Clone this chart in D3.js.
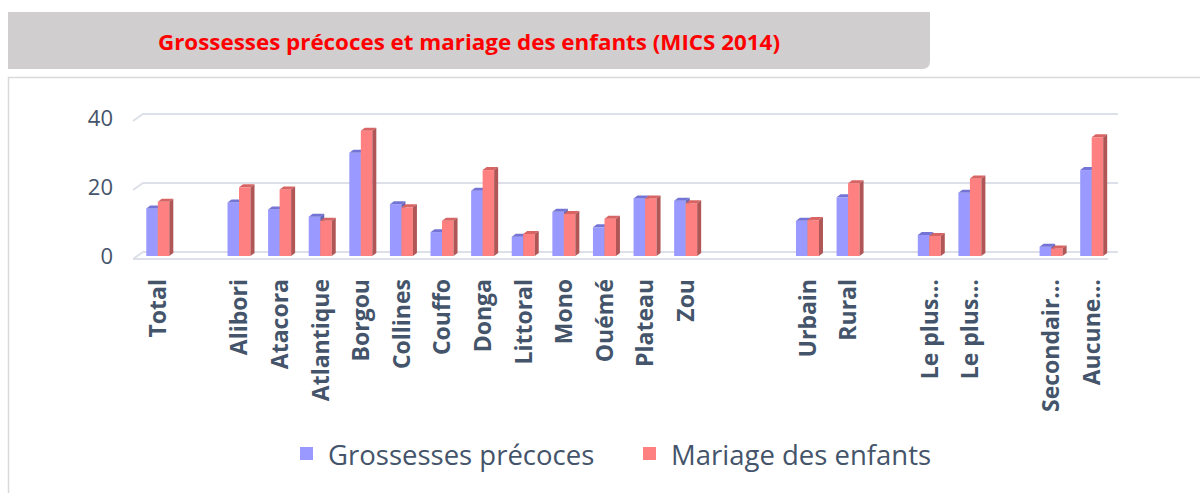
<!DOCTYPE html>
<html>
<head>
<meta charset="utf-8">
<script src="https://cdn.jsdelivr.net/npm/d3@7"></script>
<style>
  html, body { margin: 0; padding: 0; background: #ffffff; }
  svg { display: block; }
</style>
</head>
<body>
<svg id="chart"></svg>
<script>
// Categories (empty strings are the gaps between groups)
const categories = ["Total", "", "Alibori", "Atacora", "Atlantique", "Borgou", "Collines", "Couffo",
  "Donga", "Littoral", "Mono", "Ouémé", "Plateau", "Zou", " ", "  ", "Urbain", "Rural", "   ",
  "Le plus…", "Le plus… ", "    ", "Secondair…", "Aucune…"];

const grossesses = [13.8, null, 15.5, 13.5, 11.4, 29.9, 15.0, 6.9, 18.9, 5.6, 12.8, 8.3, 16.7, 16.0,
  null, null, 10.2, 17.0, null, 6.1, 18.3, null, 2.7, 24.9];
const mariage = [15.7, null, 19.9, 19.3, 10.2, 36.3, 14.1, 10.2, 24.9, 6.4, 12.2, 10.8, 16.7, 15.3,
  null, null, 10.4, 21.1, null, 5.8, 22.5, null, 2.2, 34.4];

const yTicks = [0, 20, 40];
const seriesNames = ["Grossesses précoces", "Mariage des enfants"];

const width = 1200, height = 493;
const textColor = "#44546a";
const colors = {
  front: ["#9999ff", "#ff8080"],
  top: ["#7474d6", "#d86464"],
  side: ["#6666b8", "#b05656"]
};

const svg = d3.select("#chart")
  .attr("width", width)
  .attr("height", height)
  .style("font-family", "'Open Sans', sans-serif");

// Title box
svg.append("path")
  .attr("d", "M8,12 H930 V61 Q930,69 922,69 H8 Z")
  .attr("fill", "#d0cece");

svg.append("text")
  .attr("x", 469)
  .attr("y", 50)
  .attr("text-anchor", "middle")
  .attr("fill", "#ff0000")
  .attr("textLength", 622)
  .attr("lengthAdjust", "spacingAndGlyphs")
  .style("font-weight", "bold")
  .style("font-size", "21px")
  .text("Grossesses précoces et mariage des enfants (MICS 2014)");

// Chart frame
svg.append("path")
  .attr("d", "M8.5,493 V77.5 H1200")
  .attr("fill", "none")
  .attr("stroke", "#d9d9d9")
  .attr("stroke-width", 1.5);

const margins = {left: 137.5, right: 88, top: 118, bottom: 256};

const x = d3.scaleBand()
  .domain(categories)
  .range([margins.left, width - margins.right])
  .paddingInner(0)
  .paddingOuter(0);

const y = d3.scaleLinear()
  .domain([0, 40])
  .range([margins.bottom, margins.top]);

// depth of the 3D box
const depthX = 10, depthY = 7;
const leftEdge = 133;

// Gridlines (back wall + left diagonal)
const grid = svg.append("g");
yTicks.forEach(t => {
  const yf = y(t) + 3;
  grid.append("path")
    .attr("d", `M${leftEdge},${yf} L${leftEdge + depthX},${yf - depthY} H1118`)
    .attr("fill", "none")
    .attr("stroke", "#dde0e8")
    .attr("stroke-width", 2);
});
// floor front edge
grid.append("line")
  .attr("x1", leftEdge).attr("x2", 1108)
  .attr("y1", y(0) + 3).attr("y2", y(0) + 3)
  .attr("stroke", "#dde0e8")
  .attr("stroke-width", 2);

// Y axis labels
const yAxis = d3.axisLeft(y).tickValues(yTicks).tickSize(0).tickPadding(0);
const yAxisG = svg.append("g")
  .attr("transform", "translate(113,0)")
  .call(yAxis);
yAxisG.select(".domain").remove();
yAxisG.selectAll("text")
  .attr("fill", textColor)
  .attr("dy", "0.35em")
  .style("font-size", "22px")
  .style("font-family", "'Open Sans', sans-serif");

// Bars (pseudo 3D)
const barW = 11.5, dX = 4, dY = 3;
const series = [grossesses, mariage];
series.forEach((vals, s) => {
  const g = svg.append("g");
  const data = categories.map((c, i) => ({c, v: vals[i]})).filter(d => d.v != null);
  const bx = d => x(d.c) + x.bandwidth() / 2 - barW + s * barW;

  g.selectAll("rect.front")
    .data(data).enter().append("rect")
    .attr("x", bx)
    .attr("y", d => y(d.v))
    .attr("width", barW)
    .attr("height", d => y(0) - y(d.v))
    .attr("fill", colors.front[s]);

  g.selectAll("path.top")
    .data(data).enter().append("path")
    .attr("d", d => {
      const x0 = bx(d), y0 = y(d.v);
      return `M${x0},${y0} L${x0 + barW},${y0} L${x0 + barW + dX},${y0 - dY} L${x0 + dX},${y0 - dY} Z`;
    })
    .attr("fill", colors.top[s]);

  g.selectAll("path.side")
    .data(data).enter().append("path")
    .attr("d", d => {
      const x1 = bx(d) + barW, y0 = y(d.v), yb = y(0);
      return `M${x1},${y0} L${x1 + dX},${y0 - dY} L${x1 + dX},${yb - dY} L${x1},${yb} Z`;
    })
    .attr("fill", colors.side[s]);
});

// Category labels
const xAxis = d3.axisBottom(x).tickSize(0).tickPadding(0);
const xAxisG = svg.append("g")
  .attr("transform", "translate(0,279)")
  .call(xAxis);
xAxisG.select(".domain").remove();
xAxisG.selectAll("text")
  .attr("transform", "rotate(-90)")
  .attr("x", 0)
  .attr("y", 0)
  .attr("dy", "0.36em")
  .attr("text-anchor", "end")
  .attr("fill", textColor)
  .style("font-weight", "bold")
  .style("font-size", "23px")
  .style("font-family", "'Open Sans', sans-serif");

// Legend
const legendItems = [{x: 300, name: seriesNames[0], color: colors.front[0]},
                     {x: 643, name: seriesNames[1], color: colors.front[1]}];
const legend = svg.append("g");
legendItems.forEach(item => {
  legend.append("rect")
    .attr("x", item.x)
    .attr("y", 447)
    .attr("width", 13)
    .attr("height", 13)
    .attr("fill", item.color);
  legend.append("text")
    .attr("x", item.x + 28)
    .attr("y", 465)
    .attr("fill", textColor)
    .style("font-size", "27.5px")
    .text(item.name);
});
</script>
</body>
</html>
